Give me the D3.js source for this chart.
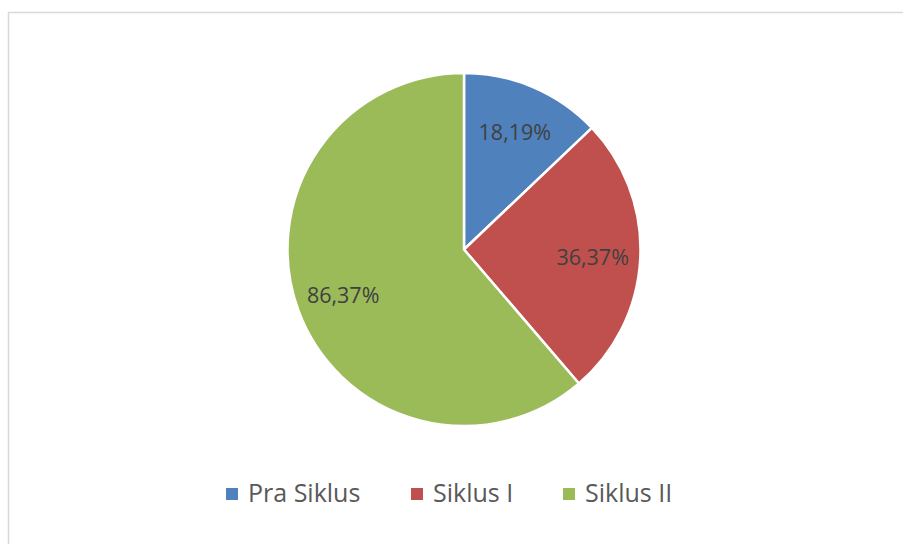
<!DOCTYPE html>
<html lang="id">
<head>
    <meta charset="UTF-8">
    <title>Pie Siklus</title>
    <script src="https://d3js.org/d3.v7.min.js"></script>
    <style>
        html, body { margin: 0; padding: 0; background: #fff; }
        svg { display: block; font-family: "Open Sans", "Noto Sans", sans-serif; }
    </style>
</head>
<body>
<script>
// data
const categories = ['Pra Siklus', 'Siklus I', 'Siklus II'];
const values = [18.19, 36.37, 86.37];
const labels = ['18,19%', '36,37%', '86,37%'];
const colors = ['#4f81bd', '#c0504d', '#9bbb59'];

const width = 903, height = 544;
const cx = 464, cy = 249.5, radius = 176.5;

const svg = d3.select('body').append('svg')
    .attr('width', width)
    .attr('height', height);

// chart frame (runs off the right and bottom edges)
svg.append('rect')
    .attr('x', 8.5).attr('y', 12.5)
    .attr('width', width).attr('height', height)
    .attr('fill', '#fff')
    .attr('stroke', '#d9d9d9')
    .attr('stroke-width', 1.5);

const data = categories.map((c, i) => ({ name: c, value: values[i], label: labels[i], color: colors[i] }));

const pie = d3.pie().sort(null).value(d => d.value);
const arc = d3.arc().innerRadius(0).outerRadius(radius);
const labelArc = d3.arc().innerRadius(radius * 0.73).outerRadius(radius * 0.73);

const g = svg.append('g').attr('transform', `translate(${cx},${cy})`);
const arcs = pie(data);

g.selectAll('path')
    .data(arcs)
    .enter()
    .append('path')
    .attr('d', arc)
    .attr('fill', d => d.data.color)
    .attr('stroke', '#fff')
    .attr('stroke-width', 2.5)
    .attr('stroke-linejoin', 'round');

g.selectAll('text.lbl')
    .data(arcs)
    .enter()
    .append('text')
    .attr('class', 'lbl')
    .attr('transform', d => {
        const [x, y] = labelArc.centroid(d);
        return `translate(${x},${y + 1})`;
    })
    .attr('text-anchor', 'middle')
    .attr('dy', '0.36em')
    .attr('fill', '#404040')
    .style('font-size', '21.5px')
    .text(d => d.data.label);

// legend
const legendX = d3.scaleOrdinal().domain(categories).range([226, 411, 563]);
const legend = svg.append('g');
const item = legend.selectAll('g')
    .data(data)
    .enter()
    .append('g')
    .attr('transform', d => `translate(${legendX(d.name)},488)`);

item.append('rect')
    .attr('width', 12).attr('height', 12)
    .attr('fill', d => d.color);

item.append('text')
    .attr('x', 22).attr('y', 14)
    .attr('fill', '#595959')
    .style('font-size', '25px')
    .text(d => d.name);
</script>
</body>
</html>
